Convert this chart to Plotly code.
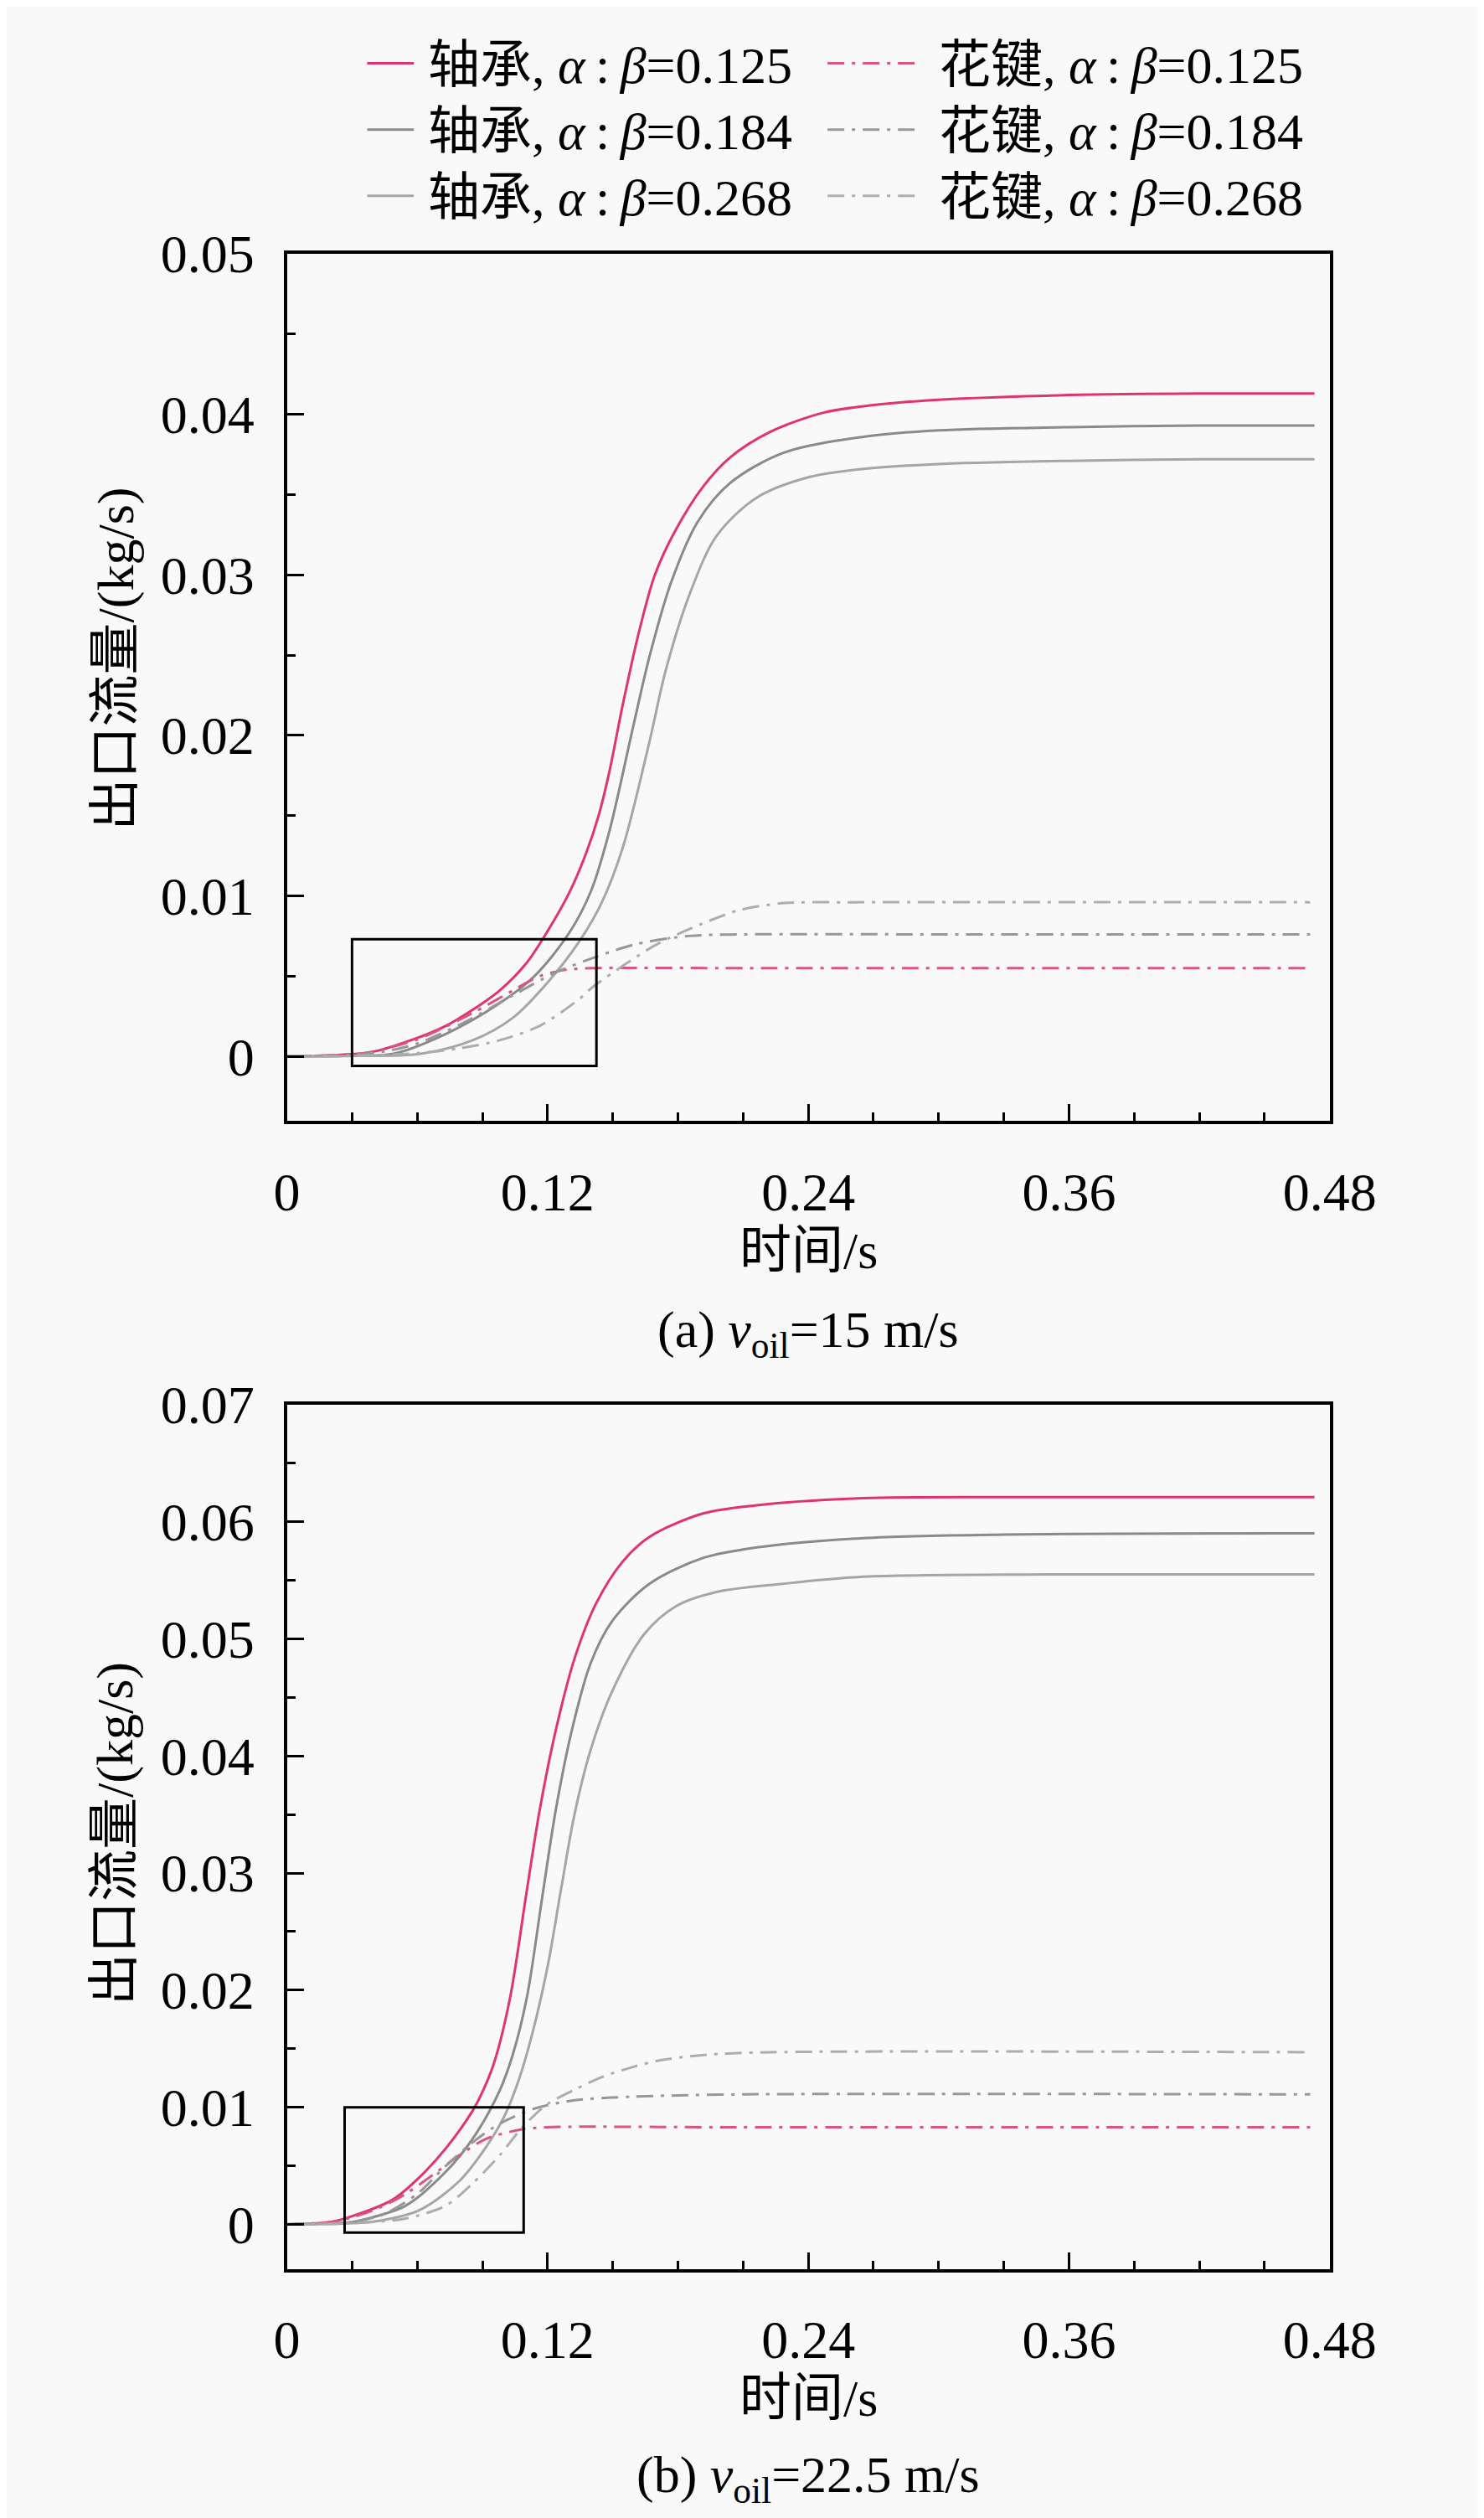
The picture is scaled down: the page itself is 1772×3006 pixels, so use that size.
import plotly.graph_objects as go

# ---------------- data ----------------
# (a) v_oil = 15 m/s
t_b125_a = [0, 0.025, 0.040, 0.061, 0.0732, 0.0855, 0.0979, 0.1102, 0.120, 0.130, 0.1373, 0.1435, 0.1484, 0.1546, 0.162, 0.1694, 0.179, 0.1916, 0.2039, 0.2224, 0.247, 0.2655, 0.30, 0.36, 0.42, 0.473]
q_b125_a = [0, 0.0001, 0.0003, 0.0012, 0.0019, 0.0029, 0.0041, 0.0058, 0.0078, 0.0102, 0.0125, 0.0150, 0.0177, 0.0219, 0.0264, 0.0300, 0.0328, 0.0355, 0.0373, 0.0389, 0.0401, 0.0405, 0.0409, 0.0412, 0.0413, 0.0413]
t_b184_a = [0, 0.03, 0.0486, 0.0732, 0.0979, 0.114, 0.130, 0.140, 0.1484, 0.1595, 0.1669, 0.1768, 0.1891, 0.2039, 0.2285, 0.2655, 0.30, 0.36, 0.42, 0.473]
q_b184_a = [0, 0.00005, 0.00015, 0.0014, 0.0033, 0.0050, 0.0077, 0.0103, 0.0140, 0.0206, 0.0249, 0.0295, 0.0333, 0.0357, 0.0376, 0.0386, 0.0390, 0.0392, 0.0393, 0.0393]
t_b268_a = [0, 0.03, 0.0609, 0.0855, 0.104, 0.120, 0.1348, 0.1450, 0.1546, 0.1669, 0.1743, 0.1854, 0.1977, 0.2162, 0.2408, 0.2655, 0.30, 0.36, 0.42, 0.473]
q_b268_a = [0, 0.00003, 0.00015, 0.0010, 0.0024, 0.0046, 0.0072, 0.0096, 0.0130, 0.0196, 0.0240, 0.0288, 0.0324, 0.0348, 0.0361, 0.0366, 0.0369, 0.0371, 0.0372, 0.0372]
t_s125_a = [0, 0.03, 0.040, 0.0609, 0.0855, 0.104, 0.1164, 0.1287, 0.1423, 0.20, 0.30, 0.471]
q_s125_a = [0, 0.0001, 0.0003, 0.0011, 0.0027, 0.0041, 0.0050, 0.0054, 0.0055, 0.0055, 0.0055, 0.0055]
t_s184_a = [0, 0.03, 0.045, 0.06, 0.08, 0.104, 0.1233, 0.1423, 0.161, 0.185, 0.21, 0.30, 0.471]
q_s184_a = [0, 0.0001, 0.0003, 0.0008, 0.0020, 0.0038, 0.0052, 0.0062, 0.0070, 0.0075, 0.0076, 0.0076, 0.0076]
t_s268_a = [0, 0.03, 0.06, 0.0794, 0.0979, 0.1164, 0.1349, 0.1406, 0.1692, 0.1848, 0.208, 0.229, 0.26, 0.471]
q_s268_a = [0, 0.00002, 0.0002, 0.0005, 0.0010, 0.0019, 0.0036, 0.0043, 0.0069, 0.0079, 0.0091, 0.00955, 0.0096, 0.0096]

# (b) v_oil = 22.5 m/s
t_b125_b = [0, 0.02, 0.0301, 0.0486, 0.0609, 0.0732, 0.0855, 0.0905, 0.0954, 0.1028, 0.1102, 0.1164, 0.1238, 0.1324, 0.1423, 0.1546, 0.1669, 0.1916, 0.2162, 0.2655, 0.33, 0.473]
q_b125_b = [0, 0.0002, 0.0007, 0.0021, 0.0040, 0.0065, 0.0097, 0.0115, 0.0138, 0.0194, 0.0282, 0.0354, 0.0422, 0.0483, 0.0530, 0.0566, 0.0587, 0.0607, 0.0614, 0.0620, 0.0621, 0.0621]
t_b184_b = [0, 0.03, 0.0362, 0.0547, 0.0732, 0.0855, 0.0979, 0.104, 0.1105, 0.1176, 0.1238, 0.1312, 0.1398, 0.1497, 0.1669, 0.1916, 0.2162, 0.2655, 0.33, 0.473]
q_b184_b = [0, 0.0002, 0.00045, 0.0016, 0.0045, 0.0073, 0.0114, 0.0145, 0.0194, 0.0280, 0.0354, 0.0422, 0.0479, 0.0515, 0.0547, 0.0569, 0.0578, 0.0586, 0.0589, 0.0590]
t_b268_b = [0, 0.03, 0.0424, 0.0609, 0.0794, 0.0917, 0.1000, 0.1065, 0.113, 0.120, 0.1262, 0.1324, 0.1398, 0.1497, 0.1645, 0.1793, 0.1978, 0.2285, 0.2655, 0.35, 0.473]
q_b268_b = [0, 0.0001, 0.0003, 0.0012, 0.0037, 0.0066, 0.0092, 0.0122, 0.0163, 0.0220, 0.0286, 0.0350, 0.0405, 0.0455, 0.0504, 0.0528, 0.0540, 0.0547, 0.0553, 0.0555, 0.0555]
t_s125_b = [0, 0.02, 0.03, 0.0424, 0.0547, 0.067, 0.0794, 0.0917, 0.1077, 0.12, 0.20, 0.471]
q_s125_b = [0, 0.0002, 0.0006, 0.0014, 0.0026, 0.0042, 0.0059, 0.0073, 0.0081, 0.0083, 0.0083, 0.0083]
t_s184_b = [0, 0.03, 0.045, 0.06, 0.0732, 0.0855, 0.098, 0.1143, 0.1324, 0.1585, 0.21, 0.471]
q_s184_b = [0, 0.0002, 0.0009, 0.0026, 0.0050, 0.0070, 0.0086, 0.0099, 0.0106, 0.0109, 0.0111, 0.0111]
t_s268_b = [0, 0.03, 0.0547, 0.0732, 0.0855, 0.098, 0.108, 0.1194, 0.1324, 0.1453, 0.1585, 0.1714, 0.192, 0.223, 0.471]
q_s268_b = [0, 0.0001, 0.0005, 0.0016, 0.0035, 0.0059, 0.0082, 0.0102, 0.0115, 0.0126, 0.0134, 0.0140, 0.01447, 0.0147, 0.0147]

ratios = ["0.125", "0.184", "0.268"]
x_ticks = [0, 0.12, 0.24, 0.36, 0.48]
x_ticktext = ["0", "0.12", "0.24", "0.36", "0.48"]
y_ticks_a = [0, 0.01, 0.02, 0.03, 0.04, 0.05]
y_ticktext_a = ["0", "0.01", "0.02", "0.03", "0.04", "0.05"]
y_ticks_b = [0, 0.01, 0.02, 0.03, 0.04, 0.05, 0.06, 0.07]
y_ticktext_b = ["0", "0.01", "0.02", "0.03", "0.04", "0.05", "0.06", "0.07"]
box_a = [0.030, 0.1425, -0.0006, 0.0073]   # x0, x1, y0, y1 of zoom box (a)
box_b = [0.0266, 0.109, -0.0007, 0.0100]   # zoom box (b)

# ---------------- styles ----------------
FONT = "Liberation Serif, Times New Roman, Noto Sans CJK SC, serif"
bear_colors = ["#e2346c", "#8a8a8a", "#a6a6a6"]
spl_colors = ["#d9557f", "#979797", "#adadad"]
DASH = "20px,9px,4px,9px"
BG = "#f9f9f9"

fig = go.Figure()

def add_set(data, xa, ya):
    for i, (t, q) in enumerate(data["b"]):
        fig.add_trace(go.Scatter(x=t, y=q, mode="lines", xaxis=xa, yaxis=ya,
                                 line=dict(color=bear_colors[i], width=3, shape="spline", smoothing=0.9),
                                 name="轴承, α:β=" + ratios[i], showlegend=False))
    for i, (t, q) in enumerate(data["s"]):
        fig.add_trace(go.Scatter(x=t, y=q, mode="lines", xaxis=xa, yaxis=ya,
                                 line=dict(color=spl_colors[i], width=3, dash=DASH, shape="spline", smoothing=0.8),
                                 name="花键, α:β=" + ratios[i], showlegend=False))

add_set({"b": [(t_b125_a, q_b125_a), (t_b184_a, q_b184_a), (t_b268_a, q_b268_a)],
         "s": [(t_s125_a, q_s125_a), (t_s184_a, q_s184_a), (t_s268_a, q_s268_a)]}, "x", "y")
add_set({"b": [(t_b125_b, q_b125_b), (t_b184_b, q_b184_b), (t_b268_b, q_b268_b)],
         "s": [(t_s125_b, q_s125_b), (t_s184_b, q_s184_b), (t_s268_b, q_s268_b)]}, "x2", "y2")

W, H = 1772, 3006
def px(x): return x / W
def py(y): return 1 - y / H

tickfont = dict(family=FONT, size=64, color="black")
def xaxis(domain, anchor):
    return dict(domain=domain, anchor=anchor, range=[0, 0.48], tickmode="array",
                tickvals=x_ticks, ticktext=x_ticktext, ticks="inside", ticklen=20, tickwidth=3,
                tickcolor="black", showline=True, linewidth=4, linecolor="black", mirror=True,
                showgrid=False, zeroline=False, tickfont=tickfont, ticklabelstandoff=26,
                minor=dict(tickmode="linear", tick0=0, dtick=0.03, ticks="inside", ticklen=10,
                           tickwidth=3, tickcolor="black", showgrid=False))
def yaxis(domain, anchor, rng, tv, tt):
    return dict(domain=domain, anchor=anchor, range=rng, tickmode="array",
                tickvals=tv, ticktext=tt, ticks="inside", ticklen=20, tickwidth=3,
                tickcolor="black", showline=True, linewidth=4, linecolor="black", mirror=True,
                showgrid=False, zeroline=False, tickfont=tickfont, ticklabelstandoff=22,
                minor=dict(tickmode="linear", tick0=0, dtick=0.005, ticks="inside", ticklen=10,
                           tickwidth=3, tickcolor="black", showgrid=False))

xdom = [px(332), px(1630)]
fig.update_layout(
    width=W, height=H, margin=dict(l=0, r=0, t=0, b=0),
    paper_bgcolor=BG, plot_bgcolor=BG, showlegend=False,
    font=dict(family=FONT, size=60, color="black"),
    xaxis=xaxis(xdom, "y"),
    yaxis=yaxis([py(1310), py(263)], "x", [-0.004, 0.05], y_ticks_a, y_ticktext_a),
    xaxis2=xaxis(xdom, "y2"),
    yaxis2=yaxis([py(2697), py(1653)], "x2", [-0.0038, 0.07], y_ticks_b, y_ticktext_b),
)

# zoom boxes
for (b, xr, yr) in [(box_a, "x", "y"), (box_b, "x2", "y2")]:
    fig.add_shape(type="rect", xref=xr, yref=yr, x0=b[0], x1=b[1], y0=b[2], y1=b[3],
                  line=dict(color="black", width=3), fillcolor="rgba(0,0,0,0)")

# manual legend (two columns, three rows)
rows_y = [33, 113, 193]
for i in range(3):
    fig.add_shape(type="line", xref="paper", yref="paper", x0=px(432), x1=px(490),
                  y0=py(rows_y[i]), y1=py(rows_y[i]), line=dict(color=bear_colors[i], width=3))
    fig.add_shape(type="line", xref="paper", yref="paper", x0=px(1005), x1=px(1118),
                  y0=py(rows_y[i]), y1=py(rows_y[i]), line=dict(color=spl_colors[i], width=3, dash=DASH))
    fig.add_annotation(xref="paper", yref="paper", x=px(506), y=py(rows_y[i] + 2), xanchor="left",
                       yanchor="middle", showarrow=False,
                       text="轴承, <i>α</i>\u2009:\u2009<i>β</i>=" + ratios[i], font=dict(family=FONT, size=62))
    fig.add_annotation(xref="paper", yref="paper", x=px(1141), y=py(rows_y[i] + 2), xanchor="left",
                       yanchor="middle", showarrow=False,
                       text="花键, <i>α</i>\u2009:\u2009<i>β</i>=" + ratios[i], font=dict(family=FONT, size=62))

# axis titles and captions
for yc in [752, 2171]:
    fig.add_annotation(xref="paper", yref="paper", x=px(119), y=py(yc), textangle=-90,
                       showarrow=False, text="出口流量/(kg/s)", font=dict(family=FONT, size=62),
                       xanchor="center", yanchor="middle")
for yc in [1467, 2853]:
    fig.add_annotation(xref="paper", yref="paper", x=px(981), y=py(yc), showarrow=False,
                       text="时间/s", font=dict(family=FONT, size=62), xanchor="center", yanchor="middle")
fig.add_annotation(xref="paper", yref="paper", x=px(981), y=py(1567), showarrow=False,
                   text="(a) <i>v</i><sub>oil</sub>=15 m/s", font=dict(family=FONT, size=62),
                   xanchor="center", yanchor="middle")
fig.add_annotation(xref="paper", yref="paper", x=px(981), y=py(2950), showarrow=False,
                   text="(b) <i>v</i><sub>oil</sub>=22.5 m/s", font=dict(family=FONT, size=62),
                   xanchor="center", yanchor="middle")

fig.write_html("out.html")
